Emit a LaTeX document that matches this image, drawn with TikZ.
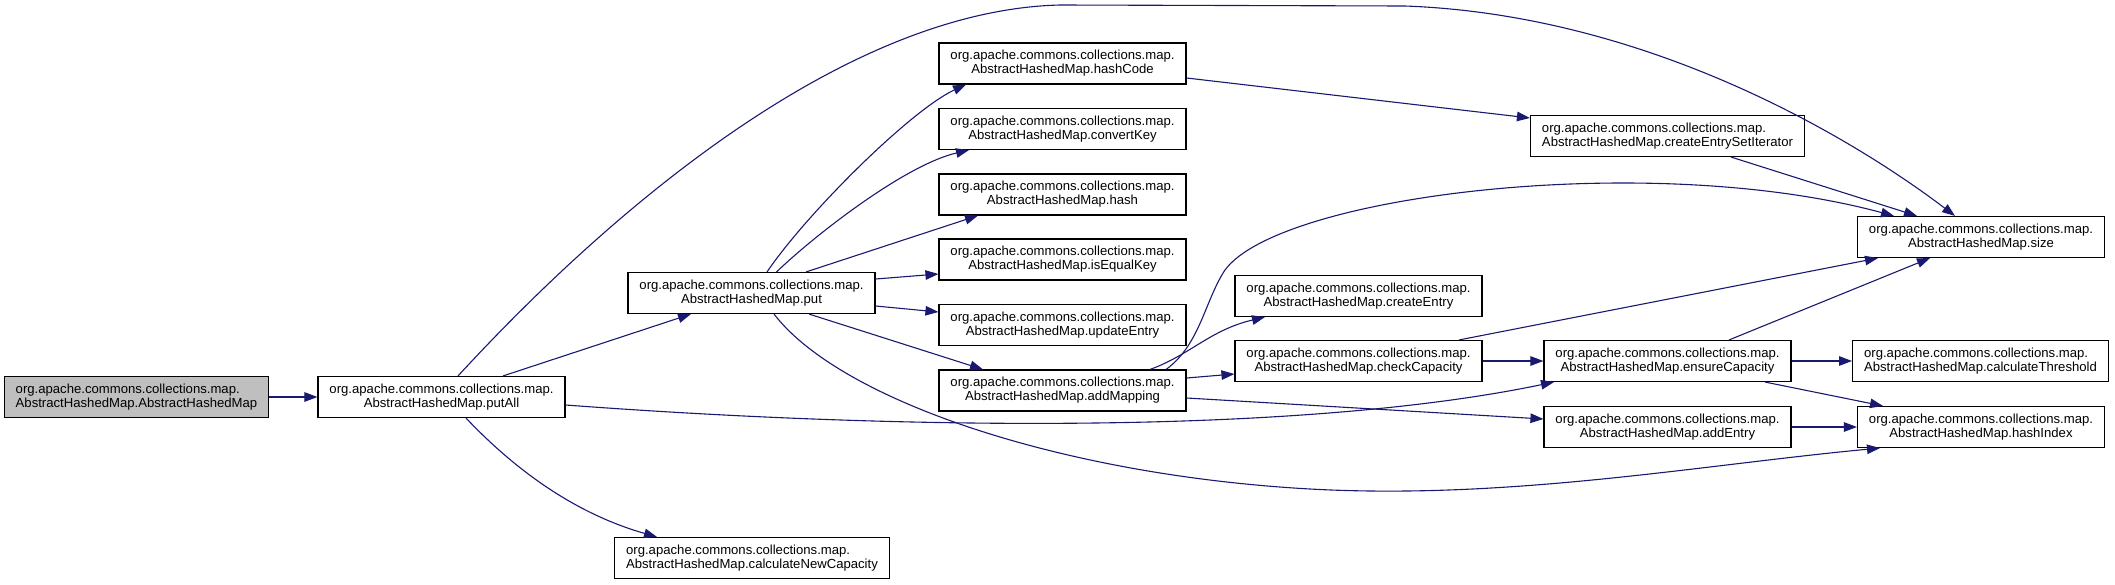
\documentclass[tikz,border=0pt]{standalone}
\usepackage{fontspec}
\setmainfont{Liberation Sans}
\usetikzlibrary{arrows.meta,calc}
\definecolor{edgeblue}{HTML}{191970}
\definecolor{graynode}{HTML}{BFBFBF}
\begin{document}
\begin{tikzpicture}[x=1pt,y=-1pt,
  fn/.style={draw=black, line width=1.1pt, fill=white, minimum width=247pt,
    minimum height=41pt, inner xsep=11.5pt, inner ysep=0pt,
    font=\fontsize{13.13}{14}\selectfont, align=center},
  fnl/.style={fn, align=left},
  edge/.style={draw=edgeblue, line width=1.1pt, -{Triangle[length=13pt,width=9.5pt]}}]
\useasboundingbox (0,0) rectangle (2115,584);
% nodes
\node[fnl, fill=graynode] (gray) at (136.5,397) {org.apache.commons.collections.map.\\AbstractHashedMap.AbstractHashedMap};
\node[fn] (putAll) at (441.5,397) {org.apache.commons.collections.map.\\AbstractHashedMap.putAll};
\node[fn] (put) at (751.5,293) {org.apache.commons.collections.map.\\AbstractHashedMap.put};
\node[fnl] (calcNewCap) at (752,558) {org.apache.commons.collections.map.\\AbstractHashedMap.calculateNewCapacity};
\node[fn] (hashCode) at (1062.5,63.5) {org.apache.commons.collections.map.\\AbstractHashedMap.hashCode};
\node[fn] (convertKey) at (1062.5,129) {org.apache.commons.collections.map.\\AbstractHashedMap.convertKey};
\node[fn] (hash) at (1062.5,194.5) {org.apache.commons.collections.map.\\AbstractHashedMap.hash};
\node[fn] (isEqualKey) at (1062.5,259.5) {org.apache.commons.collections.map.\\AbstractHashedMap.isEqualKey};
\node[fn] (updateEntry) at (1062.5,325) {org.apache.commons.collections.map.\\AbstractHashedMap.updateEntry};
\node[fn] (addMapping) at (1062.5,390.5) {org.apache.commons.collections.map.\\AbstractHashedMap.addMapping};
\node[fnl] (createEntrySetIterator) at (1667.5,136) {org.apache.commons.collections.map.\\AbstractHashedMap.createEntrySetIterator};
\node[fn] (createEntry) at (1358.5,296) {org.apache.commons.collections.map.\\AbstractHashedMap.createEntry};
\node[fn] (checkCapacity) at (1358.5,361) {org.apache.commons.collections.map.\\AbstractHashedMap.checkCapacity};
\node[fn] (ensureCapacity) at (1667.5,361) {org.apache.commons.collections.map.\\AbstractHashedMap.ensureCapacity};
\node[fn] (addEntry) at (1667.5,427) {org.apache.commons.collections.map.\\AbstractHashedMap.addEntry};
\node[fn] (size) at (1981,237) {org.apache.commons.collections.map.\\AbstractHashedMap.size};
\node[fnl] (calculateThreshold) at (1980.5,361) {org.apache.commons.collections.map.\\AbstractHashedMap.calculateThreshold};
\node[fn] (hashIndex) at (1981,427) {org.apache.commons.collections.map.\\AbstractHashedMap.hashIndex};
% edges
\draw[edge] (gray) -- (putAll);
\draw[edge] ($(putAll.north)+(61.5,0)$) -- ($(put.south)+(-60.5,0)$);
\draw[edge] ($(putAll.north)+(16.5,0)$) .. controls (620,200) and (850,10) .. (1060,5) -- (1405,6) .. controls (1650,15) and (1855,140) .. ($(size.north)+(-26,0)$);
\draw[edge] ($(putAll.south)+(24.5,0)$) .. controls (520,475) and (580,515) .. ($(calcNewCap.north)+(-95,0)$);
\draw[edge] ($(putAll.east)+(0,8)$) .. controls (900,430) and (1300,435) .. ($(ensureCapacity.south)+(-113.5,0)$);
\draw[edge] ($(put.north)+(15.5,0)$) .. controls (807,213) and (911,110) .. ($(hashCode.south)+(-96.5,0)$);
\draw[edge] ($(put.north)+(25,0)$) .. controls (815,235) and (905,165) .. ($(convertKey.south)+(-93.5,0)$);
\draw[edge] ($(put.north)+(54.5,0)$) -- ($(hash.south)+(-84.5,0)$);
\draw[edge] ($(put.east)+(0,-14)$) -- ($(isEqualKey.west)+(0,14.5)$);
\draw[edge] ($(put.east)+(0,13)$) -- ($(updateEntry.west)+(0,-13)$);
\draw[edge] ($(put.south)+(57.5,0)$) -- ($(addMapping.north)+(-79.5,0)$);
\draw[edge] ($(put.south)+(22.5,0)$) .. controls (840,400) and (1060,475) .. (1310,489) .. controls (1510,500) and (1700,465) .. ($(hashIndex.south)+(-101,0)$);
\draw[edge] ($(hashCode.east)+(0,14.5)$) -- ($(createEntrySetIterator.west)+(0,-18)$);
\draw[edge] ($(createEntrySetIterator.south)+(63.5,0)$) -- ($(size.north)+(-64,0)$);
\draw[edge] ($(addMapping.north)+(103.5,0)$) .. controls (1200,345) and (1205,300) .. (1225,270) .. controls (1280,195) and (1650,150) .. ($(size.north)+(-87,0)$);
\draw[edge] ($(addMapping.north)+(87.5,0)$) .. controls (1190,355) and (1210,330) .. ($(createEntry.south)+(-93.5,0)$);
\draw[edge] ($(addMapping.east)+(0,-12.5)$) -- ($(checkCapacity.west)+(0,13)$);
\draw[edge] ($(addMapping.east)+(0,7.5)$) -- ($(addEntry.west)+(0,-8)$);
\draw[edge] ($(checkCapacity.north)+(100.5,0)$) -- ($(size.south)+(-103,0)$);
\draw[edge] (checkCapacity) -- (ensureCapacity);
\draw[edge] ($(ensureCapacity.north)+(61.5,0)$) -- ($(size.south)+(-51,0)$);
\draw[edge] (ensureCapacity) -- (calculateThreshold);
\draw[edge] ($(ensureCapacity.south)+(97.5,0)$) -- ($(hashIndex.north)+(-98,0)$);
\draw[edge] (addEntry) -- (hashIndex);
\end{tikzpicture}
\end{document}
